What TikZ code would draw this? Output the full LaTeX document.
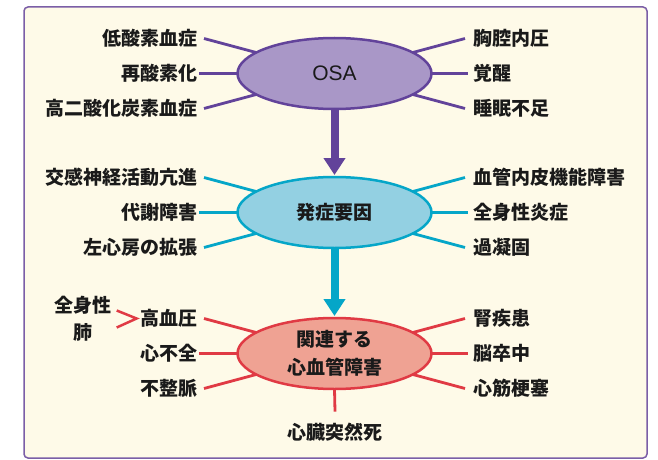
\documentclass[tikz,border=0pt]{standalone}
\usepackage{fontspec}
\setmainfont{Noto Sans CJK JP}
\newfontfamily\latinf{Liberation Sans}
\usetikzlibrary{arrows.meta,shapes.geometric}
\definecolor{bgc}{HTML}{FEFAE8}
\definecolor{framec}{HTML}{7B5EA7}
\definecolor{purl}{HTML}{62439A}
\definecolor{purf}{HTML}{A997C7}
\definecolor{cyl}{HTML}{05A6C8}
\definecolor{cyf}{HTML}{93D0E2}
\definecolor{redl}{HTML}{E03A44}
\definecolor{redf}{HTML}{EFA293}
\definecolor{txt}{HTML}{1A1A1A}
\begin{document}
\begin{tikzpicture}[x=1pt,y=-1pt,
  lbl/.style={font=\fontsize{19}{22}\selectfont\bfseries, text=txt, inner sep=0pt},
  lft/.style={lbl, anchor=east},
  rgt/.style={lbl, anchor=west},
  hub/.style={ellipse, minimum width=194pt, minimum height=71pt, line width=2.5pt, inner sep=0pt, outer sep=0pt, text=txt},
  spoke/.style={line width=2.8pt},
  bigarrow/.style={line width=8pt, -{Triangle[width=21pt,length=17pt]}, shorten >=2pt}
]
\fill[white] (0,0) rectangle (658,460);
\useasboundingbox (0,0) rectangle (658,460);
\draw[framec, line width=1.5pt, fill=bgc, rounded corners=4pt] (24,7) rectangle (647,458);

% hubs
\node[hub, draw=purl, fill=purf, font=\latinf\fontsize{21}{24}\selectfont] (osa) at (334.5,73.5) {OSA};
\node[hub, draw=cyl, fill=cyf, font=\fontsize{19}{22}\selectfont\bfseries] (hs) at (334.5,212.5) {発症要因};
\node[hub, draw=redl, fill=redf, align=center, font=\fontsize{19}{28}\selectfont\bfseries] (kr) at (334.5,353.5) {関連する\\心血管障害};

% arrows
\draw[bigarrow, purl] (osa.south) -- (hs.north);
\draw[bigarrow, cyl] (hs.south) -- (kr.north);

% group 1
\node[lft] (a1) at (198,38.5) {低酸素血症};
\node[lft] (a2) at (198,73.5) {再酸素化};
\node[lft] (a3) at (198,108.5) {高二酸化炭素血症};
\node[rgt] (b1) at (473,38.5) {胸腔内圧};
\node[rgt] (b2) at (473,73.5) {覚醒};
\node[rgt] (b3) at (473,108.5) {睡眠不足};
\begin{scope}[spoke, purl]
\draw ([xshift=6pt]a1.east) -- (osa.165);
\draw ([xshift=1pt]a2.east) -- (osa.180);
\draw ([xshift=6pt]a3.east) -- (osa.195);
\draw (osa.15) -- ([xshift=-8pt]b1.west);
\draw (osa.0) -- ([xshift=-5pt]b2.west);
\draw (osa.-15) -- ([xshift=-8pt]b3.west);
\end{scope}

% group 2
\node[lft] (c1) at (198,177.5) {交感神経活動亢進};
\node[lft] (c2) at (198,212.5) {代謝障害};
\node[lft] (c3) at (198,247.5) {左心房の拡張};
\node[rgt] (d1) at (473,177.5) {血管内皮機能障害};
\node[rgt] (d2) at (473,212.5) {全身性炎症};
\node[rgt] (d3) at (473,247.5) {過凝固};
\begin{scope}[spoke, cyl]
\draw ([xshift=6pt]c1.east) -- (hs.165);
\draw ([xshift=1pt]c2.east) -- (hs.180);
\draw ([xshift=6pt]c3.east) -- (hs.195);
\draw (hs.15) -- ([xshift=-8pt]d1.west);
\draw (hs.0) -- ([xshift=-5pt]d2.west);
\draw (hs.-15) -- ([xshift=-8pt]d3.west);
\end{scope}

% group 3
\node[lft] (e1) at (198,318.5) {高血圧};
\node[lft] (e2) at (198,353.5) {心不全};
\node[lft] (e3) at (198,388.5) {不整脈};
\node[rgt] (f1) at (473,318.5) {腎疾患};
\node[rgt] (f2) at (473,353.5) {脳卒中};
\node[rgt] (f3) at (473,388.5) {心筋梗塞};
\node[lbl, align=center, font=\fontsize{19}{27}\selectfont\bfseries] (zs) at (83,318.5) {全身性\\肺};
\node[lbl] (sd) at (335,432) {心臓突然死};
\begin{scope}[spoke, redl]
\draw ([xshift=6pt]e1.east) -- (kr.165);
\draw ([xshift=1pt]e2.east) -- (kr.180);
\draw ([xshift=6pt]e3.east) -- (kr.195);
\draw (kr.15) -- ([xshift=-8pt]f1.west);
\draw (kr.0) -- ([xshift=-5pt]f2.west);
\draw (kr.-15) -- ([xshift=-8pt]f3.west);
\draw (kr.south) -- ([yshift=11pt]sd.north);
\coordinate (gt) at ([xshift=-4pt]e1.west);
\draw[line width=2.5pt, line join=miter] ([xshift=5pt,yshift=8pt]zs.east |- gt) -- (gt) -- ([xshift=5pt,yshift=-9pt]zs.east |- gt);
\end{scope}
\end{tikzpicture}
\end{document}
